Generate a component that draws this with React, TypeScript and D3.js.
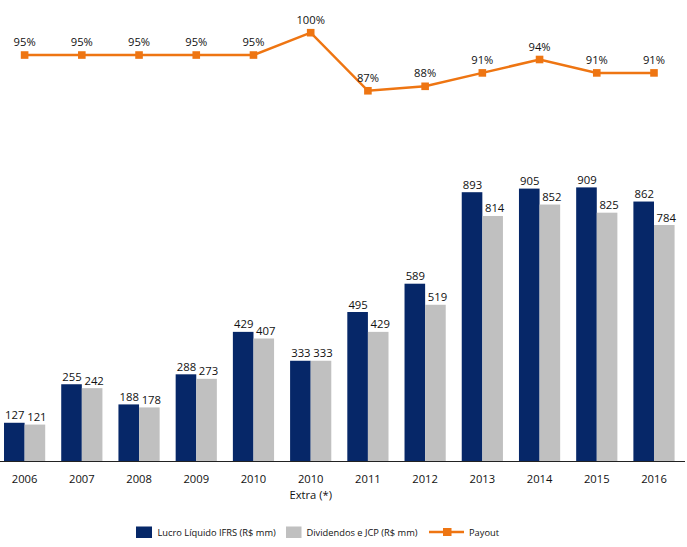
import React from "react";
import * as d3 from "d3";

const categories: string[][] = [
  ["2006"], ["2007"], ["2008"], ["2009"], ["2010"], ["2010", "Extra (*)"],
  ["2011"], ["2012"], ["2013"], ["2014"], ["2015"], ["2016"],
];
const lucro = [127, 255, 188, 288, 429, 333, 495, 589, 893, 905, 909, 862];
const dividendos = [121, 242, 178, 273, 407, 333, 429, 519, 814, 852, 825, 784];
const payout = [95, 95, 95, 95, 95, 100, 87, 88, 91, 94, 91, 91];
const legendLabels = ["Lucro Líquido IFRS (R$ mm)", "Dividendos e JCP  (R$ mm)", "Payout"];

const W = 687;
const H = 547;
const NAVY = "#062768";
const GRAY = "#C0C0C0";
const ORANGE = "#EE7512";
const FONT = "'Open Sans', Lato, sans-serif";

export default function App() {
  const idx = categories.map((_, i) => i);
  const x = d3.scaleBand<number>().domain(idx).range([-4, 682.6]).paddingInner(0.28).paddingOuter(0.14);
  const sub = d3.scaleBand<number>().domain([0, 1]).range([0, x.bandwidth()]);
  const y = d3.scaleLinear().domain([0, 1000]).range([461, 160]);
  const yl = d3.scaleLinear().domain([85, 100]).range([99.7, 32.7]);
  const cx = (i: number) => (x(i) as number) + x.bandwidth() / 2;
  const line = d3.line<number>().x((_, i) => cx(i)).y((d) => yl(d));

  const series = [
    { vals: lucro, color: NAVY, k: 0, dx: 0.5 },
    { vals: dividendos, color: GRAY, k: 1, dx: 2 },
  ];

  return (
    <svg width={W} height={H} style={{ position: "absolute", left: 0, top: 0, background: "#fff" }} fontFamily={FONT}>
      <rect x={0} y={0} width={W} height={H} fill="#fff" />
      {series.map((s) =>
        s.vals.map((v, i) => {
          const bx = (x(i) as number) + (sub(s.k) as number);
          return (
            <g key={`${s.k}-${i}`}>
              <rect x={bx} y={y(v)} width={sub.bandwidth()} height={y(0) - y(v)} fill={s.color} />
              <text x={bx + sub.bandwidth() / 2 + s.dx} y={y(v) - 3.5} textAnchor="middle" fontSize={11.3} fill="#111">
                {v}
              </text>
            </g>
          );
        })
      )}
      <line x1={0} x2={685} y1={461.5} y2={461.5} stroke="#222" strokeWidth={1} />
      {categories.map((c, i) => (
        <text key={i} x={cx(i)} y={483} textAnchor="middle" fontSize={11.2} fill="#111">
          {c.map((t, j) => (
            <tspan key={j} x={cx(i)} dy={j === 0 ? 0 : 15.5}>{t}</tspan>
          ))}
        </text>
      ))}
      <path d={line(payout) || ""} fill="none" stroke={ORANGE} strokeWidth={2.5} />
      {payout.map((v, i) => (
        <g key={i}>
          <rect x={cx(i) - 3.8} y={yl(v) - 3.8} width={7.6} height={7.6} fill={ORANGE} />
          <text x={cx(i)} y={yl(v) - 9} textAnchor="middle" fontSize={11.2} fill="#111">{v}%</text>
        </g>
      ))}
      <g fontSize={9.3} fill="#111">
        <rect x={136} y={526.5} width={16} height={11.5} fill={NAVY} />
        <text x={157.5} y={535.8}>{legendLabels[0]}</text>
        <rect x={286} y={526.5} width={15.5} height={11.5} fill={GRAY} />
        <text x={306.5} y={535.8}>{legendLabels[1]}</text>
        <line x1={429} x2={464} y1={532} y2={532} stroke={ORANGE} strokeWidth={2.5} />
        <rect x={443} y={528} width={8.5} height={8} fill={ORANGE} />
        <text x={469} y={535.8}>{legendLabels[2]}</text>
      </g>
    </svg>
  );
}
